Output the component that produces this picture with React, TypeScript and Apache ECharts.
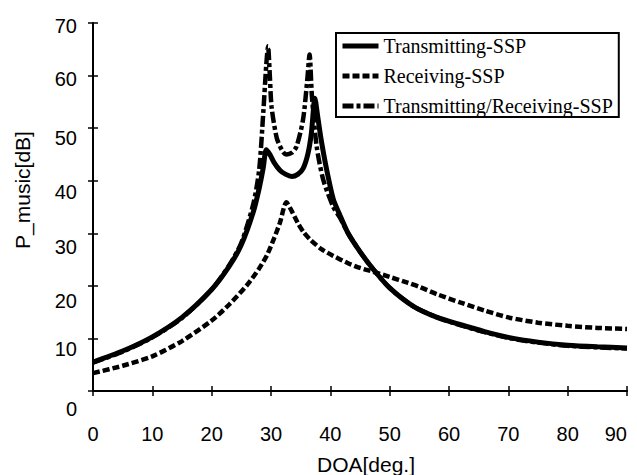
import React, { useEffect, useRef } from "react";
import * as echarts from "echarts";

const xTicks = [0, 10, 20, 30, 40, 50, 60, 70, 80, 90];
const yTicks = [0, 10, 20, 30, 40, 50, 60, 70];

const seriesNames = ["Transmitting-SSP", "Receiving-SSP", "Transmitting/Receiving-SSP"];

const transX = [0, 5, 10, 15, 20, 23, 25, 27, 28, 28.7, 29.2, 29.8, 30.5, 31.5, 32.5, 33.5, 34.5, 35.4, 36.2, 36.8, 37.4, 37.9, 38.5, 39.4, 40.5, 41.6, 43, 45, 47.2, 50, 54, 58, 62, 66, 70, 75, 80, 85, 90];
const transY = [5.5, 7.6, 10.3, 14, 19.3, 23.8, 27.8, 34, 38.5, 42.5, 45.9, 45, 43.5, 42, 41.2, 40.8, 41.2, 42.3, 45, 49, 55.7, 52, 47.5, 42, 36.5, 33.5, 30, 26.5, 23.2, 19.6, 16.1, 14, 12.6, 11.3, 10.2, 9.3, 8.7, 8.4, 8.2];

const recvX = [0, 5, 10, 15, 20, 23, 26, 28, 29.3, 30.5, 31.5, 32.6, 33.5, 34.5, 35.5, 36.6, 38.5, 40.5, 43, 45, 47.2, 50, 53, 55, 58, 62, 66, 70, 75, 80, 85, 90];
const recvY = [3.4, 4.8, 6.6, 9.5, 13.4, 16.5, 20.2, 23.3, 25.8, 29, 32, 35.9, 34.2, 32, 30.2, 28.8, 27, 25.7, 24.3, 23.4, 22.7, 21.7, 20.6, 19.8, 18.4, 16.8, 15.3, 14, 13, 12.4, 12, 11.8];

const trX = [0, 5, 10, 15, 20, 23, 25, 27, 28, 28.7, 29.2, 29.5, 29.8, 30.1, 31, 32, 32.6, 33.5, 34.3, 35.4, 36.1, 36.5, 36.9, 37.7, 38.8, 40.5, 41.6, 43, 45, 47.2, 50, 54, 58, 62, 66, 70, 75, 80, 85, 90];
const trY = [5.4, 7.5, 10.2, 13.9, 19.3, 24, 28.2, 35.5, 42, 53, 62, 65.6, 60, 54, 48, 45.5, 45, 45.3, 46.5, 51.6, 59, 64, 56, 46.5, 40.2, 35, 33, 30, 26.5, 23.2, 19.6, 16.1, 14, 12.5, 11.2, 10.1, 9.2, 8.6, 8.3, 8.1];

const pairs = (xs: number[], ys: number[]) => xs.map((x, i) => [x, ys[i]]);

// downward shift (px) of each y tick label in the scanned figure
const yLabelShift: Record<number, number> = { 0: 17, 10: 10, 20: 14, 30: 13, 40: 10, 50: 9, 60: 2, 70: 2 };

export default function App() {
  const ref = useRef<HTMLDivElement>(null);
  useEffect(() => {
    if (!ref.current) return;
    const chart = echarts.init(ref.current, null, { renderer: "svg" });
    const axisLine = { show: true, lineStyle: { color: "#000", width: 2 } };
    const tick = { show: true, inside: true, length: 5, lineStyle: { color: "#000", width: 1.5 } };
    const sans = "Liberation Sans, Arial, sans-serif";
    const rich: Record<string, any> = {};
    yTicks.forEach((v) => {
      rich["s" + v] = {
        fontFamily: sans,
        fontSize: 20,
        color: "#000",
        lineHeight: 22 + 2 * yLabelShift[v],
        verticalAlign: "bottom",
      };
    });
    chart.setOption({
      animation: false,
      backgroundColor: "#fff",
      grid: { left: 93, right: 10, top: 23, bottom: 84, outerBoundsMode: "none", containLabel: false },
      legend: {
        orient: "vertical",
        left: 336,
        top: 33,
        data: seriesNames,
        borderColor: "#000",
        borderWidth: 2,
        padding: [3, 6, 1, 4],
        itemGap: 10,
        itemWidth: 36,
        itemHeight: 20,
        itemStyle: { opacity: 0 },
        lineStyle: { width: 5 },
        textStyle: { fontFamily: "Liberation Serif, Times New Roman, serif", fontSize: 20, color: "#000" },
      },
      xAxis: [
        {
          type: "value",
          min: 0,
          max: 90,
          interval: 10,
          axisLine,
          axisTick: tick,
          splitLine: { show: false },
          axisLabel: {
            fontFamily: sans,
            fontSize: 20,
            color: "#000",
            margin: 33,
            alignMaxLabel: "right",
            formatter: (v: number) => (xTicks.includes(v) ? String(v) : ""),
          },
          name: "DOA[deg.]",
          nameLocation: "middle",
          nameGap: 63,
          nameTextStyle: { fontFamily: sans, fontSize: 21, color: "#000", padding: [0, 0, 0, 12] },
        },
        {
          type: "value",
          position: "top",
          min: 0,
          max: 90,
          interval: 10,
          axisLine,
          axisTick: tick,
          axisLabel: { show: false },
          splitLine: { show: false },
        },
      ],
      yAxis: [
        {
          type: "value",
          min: 0,
          max: 70,
          interval: 10,
          axisLine,
          axisTick: tick,
          splitLine: { show: false },
          axisLabel: {
            fontFamily: sans,
            fontSize: 20,
            color: "#000",
            margin: 16,
            rich,
            formatter: (v: number) => (yTicks.includes(v) ? "{s" + v + "|" + v + "}" : ""),
          },
          name: "P_music[dB]",
          nameLocation: "middle",
          nameGap: 60,
          nameTextStyle: { fontFamily: sans, fontSize: 21, color: "#000", padding: [0, 0, 0, 34] },
        },
        {
          type: "value",
          position: "right",
          min: 0,
          max: 70,
          interval: 10,
          axisLine,
          axisTick: tick,
          axisLabel: { show: false },
          splitLine: { show: false },
        },
      ],
      series: [
        {
          name: seriesNames[0],
          type: "line",
          data: pairs(transX, transY),
          showSymbol: false,
          symbol: "none",
          smooth: 0.25,
          lineStyle: { color: "#000", width: 5, type: "solid" },
          itemStyle: { color: "#000" },
          z: 3,
        },
        {
          name: seriesNames[1],
          type: "line",
          data: pairs(recvX, recvY),
          showSymbol: false,
          symbol: "none",
          smooth: 0.25,
          lineStyle: { color: "#000", width: 4.5, type: [7, 3] },
          itemStyle: { color: "#000" },
          z: 2,
        },
        {
          name: seriesNames[2],
          type: "line",
          data: pairs(trX, trY),
          showSymbol: false,
          symbol: "none",
          smooth: 0.25,
          lineStyle: { color: "#000", width: 4.5, type: [11, 3, 4, 3] },
          itemStyle: { color: "#000" },
          z: 2,
        },
      ],
    });
    return () => chart.dispose();
  }, []);
  return <div ref={ref} style={{ width: 637, height: 475, marginLeft: -8, marginTop: -8 }} />;
}
